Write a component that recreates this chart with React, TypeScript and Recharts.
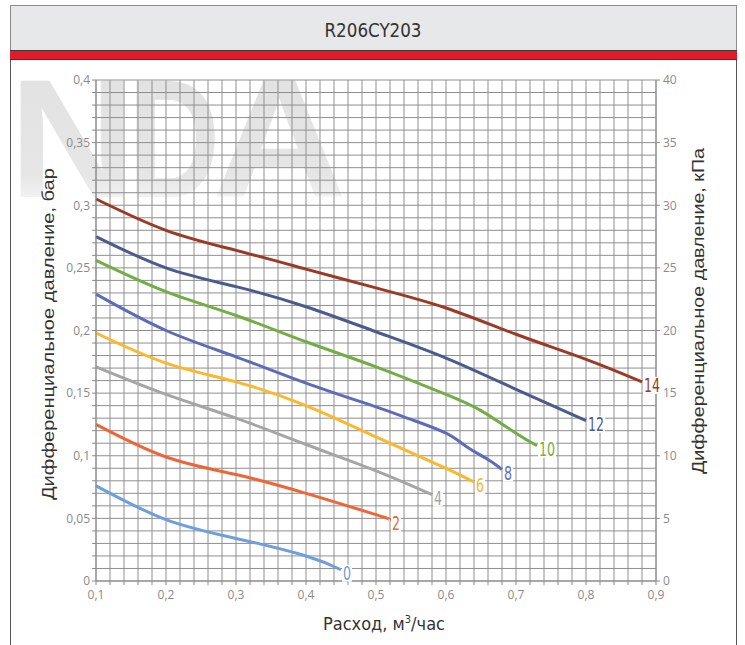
import React from 'react';
import { LineChart, Line, XAxis, YAxis, CartesianGrid } from 'recharts';

// pump curves, flow (m3/h) -> differential pressure (bar)
const flow0 = [0.1, 0.2, 0.3, 0.4, 0.45];
const dp0 = [0.076, 0.049, 0.034, 0.02, 0.009];
const flow2 = [0.1, 0.2, 0.3, 0.4, 0.5, 0.52];
const dp2 = [0.125, 0.099, 0.085, 0.07, 0.053, 0.049];
const flow4 = [0.1, 0.2, 0.3, 0.4, 0.5, 0.58];
const dp4 = [0.171, 0.149, 0.13, 0.109, 0.088, 0.069];
const flow6 = [0.1, 0.2, 0.3, 0.4, 0.5, 0.6, 0.64];
const dp6 = [0.198, 0.174, 0.159, 0.14, 0.115, 0.09, 0.079];
const flow8 = [0.1, 0.2, 0.3, 0.4, 0.5, 0.55, 0.6, 0.63, 0.66, 0.68];
const dp8 = [0.229, 0.2, 0.179, 0.158, 0.139, 0.129, 0.118, 0.107, 0.097, 0.089];
const flow10 = [0.1, 0.2, 0.3, 0.4, 0.5, 0.6, 0.65, 0.7, 0.73];
const dp10 = [0.256, 0.231, 0.212, 0.191, 0.171, 0.149, 0.136, 0.118, 0.108];
const flow12 = [0.1, 0.2, 0.3, 0.4, 0.5, 0.6, 0.7, 0.8];
const dp12 = [0.275, 0.25, 0.235, 0.219, 0.199, 0.178, 0.153, 0.128];
const flow14 = [0.1, 0.2, 0.3, 0.4, 0.5, 0.6, 0.7, 0.8, 0.88];
const dp14 = [0.305, 0.28, 0.264, 0.249, 0.234, 0.218, 0.197, 0.177, 0.159];

const curveNames = ['0', '2', '4', '6', '8', '10', '12', '14'];
const curveColors = ['#6e9fdc', '#ec6637', '#a5a5a5', '#fcb72b', '#5d6cb8', '#72ae45', '#4a5b8e', '#9b3a25'];
const curveFlows = [flow0, flow2, flow4, flow6, flow8, flow10, flow12, flow14];
const curveDps = [dp0, dp2, dp4, dp6, dp8, dp10, dp12, dp14];

// axis ticks (minor ones carry grid lines, only majors get labels)
const flowTicks = Array.from({ length: 41 }, (_, i) => +(0.1 + i * 0.02).toFixed(2));
const barTicks = Array.from({ length: 41 }, (_, i) => +(i * 0.01).toFixed(2));
const kpaTicks = [0, 5, 10, 15, 20, 25, 30, 35, 40];
const kpaPerBar = 100;

const comma = (v: number) => String(v).replace('.', ',');
const isStep = (v: number, step: number) => Math.abs(v / step - Math.round(v / step)) < 1e-6;

const tickStyle = { fill: '#8a8a8a', fontSize: 12, fontFamily: 'Open Sans, sans-serif' };
const narrow = '"Liberation Sans Narrow", "DejaVu Sans Condensed", sans-serif';

function endLabel(name: string, color: string, last: number) {
  return (props: any) => {
    if (props.index !== last) return <g key={props.index} />;
    const w = 8 * name.length;
    return (
      <g key={props.index}>
        <rect x={props.x + 1} y={props.y - 5} width={w + 2} height={17} fill="#fff" />
        <text
          x={props.x + 2}
          y={props.y + 10}
          fill={color}
          fontSize={20}
          fontFamily={narrow}
          textLength={w}
          lengthAdjust="spacingAndGlyphs"
        >
          {name}
        </text>
      </g>
    );
  };
}

export default function App() {
  const series = curveNames.map((name, i) => ({
    name,
    color: curveColors[i],
    data: curveFlows[i].map((q, j) => ({ q, p: curveDps[i][j] })),
  }));
  // same top curve in kPa, only so the right axis gets drawn
  const kpaData = flow14.map((q, j) => ({ q, k: dp14[j] * kpaPerBar }));

  return (
    <div style={{ position: 'absolute', left: 0, top: 0, width: 745, height: 645, background: '#fff' }}>
      <svg width={745} height={645} style={{ position: 'absolute', left: 0, top: 0 }}>
        <defs>
          <linearGradient id="wm" x1="0" y1="75" x2="0" y2="200" gradientUnits="userSpaceOnUse">
            <stop offset="0" stopColor="#e2e2e2" />
            <stop offset="0.8" stopColor="#e6e6e6" />
            <stop offset="1" stopColor="#f3f3f3" />
          </linearGradient>
        </defs>
        <g fill="url(#wm)" fontFamily="Liberation Sans, Arial, sans-serif" fontWeight="bold" fontSize={168}>
          <text x={9} y={197} textLength={126} lengthAdjust="spacingAndGlyphs">N</text>
          <text x={128} y={197} textLength={92} lengthAdjust="spacingAndGlyphs">D</text>
          <text x={212} y={197} textLength={135} lengthAdjust="spacingAndGlyphs">A</text>
        </g>
      </svg>

      <div style={{ position: 'absolute', left: 0, top: 0 }}>
        <LineChart width={745} height={645} margin={{ top: 80, right: 49, bottom: 34, left: 46 }}>
          <CartesianGrid xAxisId="x" yAxisId="bar" stroke="#8f8f8f" strokeWidth={1} />
          <XAxis
            xAxisId="x"
            dataKey="q"
            type="number"
            domain={[0.1, 0.9]}
            ticks={flowTicks}
            interval={0}
            allowDuplicatedCategory={false}
            height={30}
            tickSize={4}
            tickMargin={5}
            tickLine={{ stroke: '#8a8a8a' }}
            axisLine={{ stroke: '#8a8a8a' }}
            tick={tickStyle}
            tickFormatter={(v: number) => (isStep(v, 0.1) ? comma(v) : '')}
          />
          <YAxis
            yAxisId="bar"
            type="number"
            domain={[0, 0.4]}
            ticks={barTicks}
            interval={0}
            width={50}
            tickSize={4}
            tickMargin={2}
            tickLine={{ stroke: '#8a8a8a' }}
            axisLine={{ stroke: '#8a8a8a' }}
            tick={tickStyle}
            tickFormatter={(v: number) => (isStep(v, 0.05) ? comma(v) : '')}
          />
          <YAxis
            yAxisId="kpa"
            orientation="right"
            type="number"
            domain={[0, 40]}
            ticks={kpaTicks}
            interval={0}
            width={40}
            tickSize={4}
            tickMargin={3}
            tickLine={{ stroke: '#8a8a8a' }}
            axisLine={{ stroke: '#8a8a8a' }}
            tick={{ ...tickStyle, textAnchor: 'start' }}
          />
          <Line
            xAxisId="x"
            yAxisId="kpa"
            data={kpaData}
            dataKey="k"
            stroke="none"
            dot={false}
            activeDot={false}
            isAnimationActive={false}
          />
          {series.map((s) => (
            <Line
              key={s.name}
              xAxisId="x"
              yAxisId="bar"
              data={s.data}
              dataKey="p"
              type="natural"
              stroke={s.color}
              strokeWidth={3}
              dot={false}
              activeDot={false}
              isAnimationActive={false}
              label={endLabel(s.name, s.color, s.data.length - 1)}
            />
          ))}
        </LineChart>
      </div>

      <svg width={745} height={645} style={{ position: 'absolute', left: 0, top: 0, pointerEvents: 'none' }}>
        <rect x={10.5} y={5.5} width={726} height={45} fill="#e6e8ea" stroke="#8c8c8c" />
        <rect x={10} y={50} width={727} height={10} fill="#e11a2c" />
        <line x1={10} x2={737} y1={50.5} y2={50.5} stroke="#3a3a3a" />
        <line x1={10} x2={737} y1={59.5} y2={59.5} stroke="#3a3a3a" />
        <line x1={10.5} x2={10.5} y1={60} y2={645} stroke="#555" />
        <line x1={736.5} x2={736.5} y1={60} y2={645} stroke="#555" />
        <text
          x={373}
          y={37}
          textAnchor="middle"
          fontSize={19}
          fill="#333"
          fontFamily={narrow}
          textLength={97}
          lengthAdjust="spacingAndGlyphs"
        >
          R206CY203
        </text>
        <text
          transform="translate(54 334) rotate(-90)"
          textAnchor="middle"
          fontSize={17}
          fill="#333"
          fontFamily="Liberation Sans, Arial, sans-serif"
          textLength={332}
          lengthAdjust="spacingAndGlyphs"
        >
          Дифференциальное давление, бар
        </text>
        <text
          transform="translate(704 311) rotate(-90)"
          textAnchor="middle"
          fontSize={17}
          fill="#333"
          fontFamily="Liberation Sans, Arial, sans-serif"
          textLength={326}
          lengthAdjust="spacingAndGlyphs"
        >
          Дифференциальное давление, кПа
        </text>
        <text x={384} y={630} textAnchor="middle" fontSize={18} fill="#333" fontFamily={narrow}>
          Расход, м<tspan dy={-7} fontSize={11}>3</tspan>
          <tspan dy={7}>/час</tspan>
        </text>
      </svg>
    </div>
  );
}
